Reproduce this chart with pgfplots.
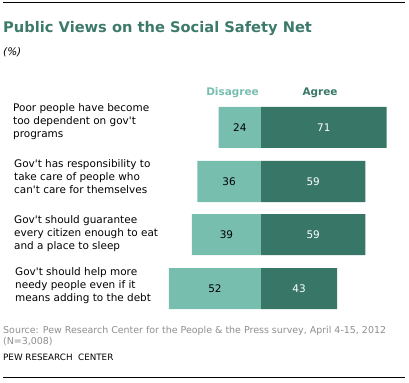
\documentclass[border=0pt]{standalone}
\usepackage{pgfplots}
\pgfplotsset{compat=1.18}
\usepackage{fontspec}
\setmainfont{DejaVu Sans}
\definecolor{lightteal}{HTML}{78BEAF}
\definecolor{darkteal}{HTML}{387767}
\definecolor{titleteal}{HTML}{3D7A6A}
\definecolor{srcgray}{HTML}{8E8E8E}
\newcommand{\q}{\textquotesingle}
\begin{document}
\begin{tikzpicture}[x=1bp,y=1bp]
\begin{axis}[at={(0,0)}, anchor=south west, scale only axis,
  width=409bp, height=383bp,
  xmin=-147.46, xmax=83.62, ymin=0, ymax=383, y dir=reverse,
  hide axis, clip=false]
\addplot[xbar, bar width=41, bar shift=0pt, fill=lightteal, draw=none]
  coordinates {(-24,127.5) (-36,181.5) (-39,234.5) (-52,288.5)};
\addplot[xbar, bar width=41, bar shift=0pt, fill=darkteal, draw=none]
  coordinates {(71,127.5) (59,181.5) (59,234.5) (43,288.5)};
\addplot[only marks, mark=*, mark options={draw=none,fill=none}, mark size=0pt,
  nodes near coords, point meta=explicit symbolic,
  every node near coord/.append style={anchor=center, text=black, font=\fontsize{10.5}{12}\selectfont}]
  coordinates {(-12,127.5)[24] (-18,181.5)[36] (-19.5,234.5)[39] (-26,288.5)[52]};
\addplot[only marks, mark=*, mark options={draw=none,fill=none}, mark size=0pt,
  nodes near coords, point meta=explicit symbolic,
  every node near coord/.append style={anchor=center, text=white, font=\fontsize{10.5}{12}\selectfont}]
  coordinates {(35.5,127.5)[71] (29.5,181.5)[59] (29.5,234.5)[59] (21.5,288.5)[43]};
\end{axis}
% rules
\draw[line width=1bp] (3,380) -- (405,380);
\draw[line width=1bp] (3,5.3) -- (405,5.3);
% title
\node[anchor=base west, inner sep=0, text=titleteal, font=\bfseries\fontsize{14.7}{16}\selectfont] at (3,383-32) {Public Views on the Social Safety Net};
\node[anchor=base west, inner sep=0, font=\itshape\fontsize{10.5}{12}\selectfont] at (3,383-55) {(\%)};
% headers
\node[anchor=base, inner sep=0, text=lightteal, font=\bfseries\fontsize{10.5}{12}\selectfont] at (232.5,383-95.5) {Disagree};
\node[anchor=base, inner sep=0, text=darkteal, font=\bfseries\fontsize{10.5}{12}\selectfont] at (320,383-95.5) {Agree};
% labels
\begin{scope}[every node/.style={anchor=base west, inner sep=0, font=\fontsize{10.5}{13}\selectfont}]
\node at (13,383-111.5) {Poor people have become};
\node at (13,383-124.5) {too dependent on gov\q t};
\node at (13,383-137.5) {programs};
\node at (14,383-167) {Gov\q t has responsibility to};
\node at (14,383-180) {take care of people who};
\node at (14,383-193) {can\q t care for themselves};
\node at (14,383-223) {Gov\q t should guarantee};
\node at (14,383-236) {every citizen enough to eat};
\node at (14,383-249) {and a place to sleep};
\node at (15,383-275) {Gov\q t should help more};
\node at (15,383-288) {needy people even if it};
\node at (15,383-301) {means adding to the debt};
\end{scope}
% source
\node[anchor=base west, inner sep=0, text=srcgray, font=\fontsize{9.5}{11}\selectfont] at (3,383-333) {Source: Pew Research Center for the People \& the Press survey, April 4-15, 2012};
\node[anchor=base west, inner sep=0, text=srcgray, font=\fontsize{9.5}{11}\selectfont] at (3,383-344) {(N=3,008)};
\node[anchor=base west, inner sep=0, font=\fontsize{8.8}{10}\selectfont] at (3,383-360) {PEW RESEARCH\ \ CENTER};
\pgfresetboundingbox
\path (0,0) rectangle (409,383);
\end{tikzpicture}
\end{document}
